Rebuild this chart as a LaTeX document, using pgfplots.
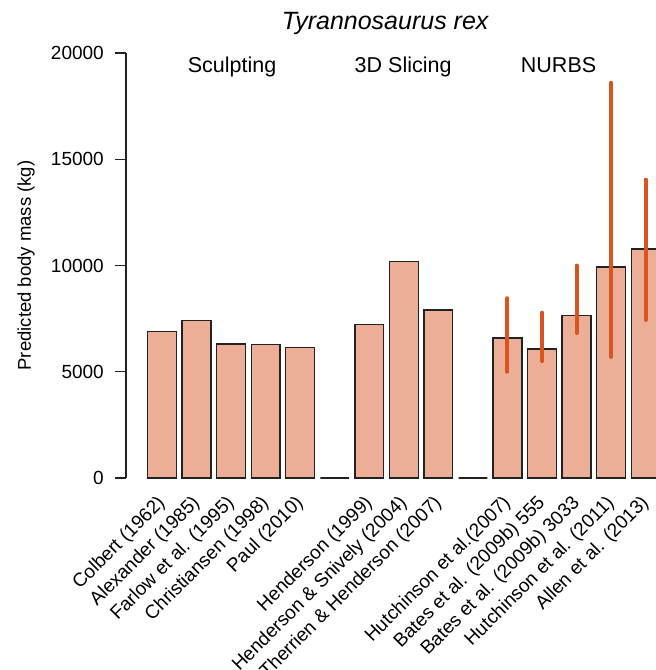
\documentclass[border=0pt]{standalone}
\usepackage{pgfplots}
\pgfplotsset{compat=1.18}
\usepackage{fontspec}
\setmainfont{Liberation Sans}
\definecolor{barfill}{HTML}{EDAE98}
\definecolor{errc}{HTML}{D9541E}
\definecolor{edge}{HTML}{222222}
\begin{document}
\begin{tikzpicture}
\path[use as bounding box] (-126pt,-192pt) rectangle (530pt,478pt);
\begin{axis}[
  at={(0pt,0pt)}, anchor=south west,
  scale only axis, width=530pt, height=425pt,
  xmin=-1.042, xmax=14.30, ymin=0, ymax=20000,
  clip=false,
  axis lines*=left,
  x axis line style={draw=none},
  y axis line style={draw=edge, line width=1.2pt},
  major x tick style={draw=none},
  major y tick style={draw=edge, line width=1.2pt},
  tick align=outside, major tick length=11pt,
  ytick={0,5000,10000,15000,20000},
  scaled y ticks=false,
  /pgf/number format/1000 sep={},
  /pgf/number format/assume math mode=true,
  yticklabel style={font=\fontsize{19}{19}\selectfont, inner xsep=11pt, inner ysep=2pt},
  xtick={0,1,2,3,4,6,7,8,10,11,12,13,14},
  xticklabels={Colbert (1962), Alexander (1985), Farlow et al. (1995), Christiansen (1998), Paul (2010),
    Henderson (1999), Henderson \& Snively (2004), Therrien \& Henderson (2007),
    Hutchinson et al.(2007), Bates et al. (2009b) 555, Bates et al. (2009b) 3033, Hutchinson et al. (2011), Allen et al. (2013)},
  xticklabel style={xshift=-6pt, yshift=-2pt, rotate=45, anchor=north east, font=\fontsize{19}{19}\selectfont, inner sep=2pt},
  ylabel={Predicted body mass (kg)},
  ylabel style={at={(axis description cs:-0.1887,0.5)}, anchor=center, font=\fontsize{18.5}{18.5}\selectfont},
]
\addplot[ybar, bar width=0.833, bar shift=0pt, fill=barfill, draw=edge, line width=1.4pt] coordinates {
  (0,6900) (1,7400) (2,6310) (3,6290) (4,6130) (5,0)
  (6,7220) (7,10200) (8,7910) (9,0)
  (10,6580) (11,6070) (12,7650) (13,9930) (14,10780)
};
\addplot[errc, line width=4pt, line cap=round] coordinates {(10,5000) (10,8460)};
\addplot[errc, line width=4pt, line cap=round] coordinates {(11,5500) (11,7780)};
\addplot[errc, line width=4pt, line cap=round] coordinates {(12,6820) (12,10000)};
\addplot[errc, line width=4pt, line cap=round] coordinates {(13,5700) (13,18600)};
\addplot[errc, line width=4pt, line cap=round] coordinates {(14,7440) (14,14040)};
\node[anchor=base, font=\itshape\fontsize{25}{25}\selectfont] at (axis cs:6.46,21115) {Tyrannosaurus rex};
\node[anchor=base, font=\fontsize{21.5}{21.5}\selectfont] at (axis cs:2.03,19100) {Sculpting};
\node[anchor=base, font=\fontsize{21.5}{21.5}\selectfont] at (axis cs:6.98,19100) {3D Slicing};
\node[anchor=base, font=\fontsize{21.5}{21.5}\selectfont] at (axis cs:11.48,19100) {NURBS};
\end{axis}
\end{tikzpicture}
\end{document}
